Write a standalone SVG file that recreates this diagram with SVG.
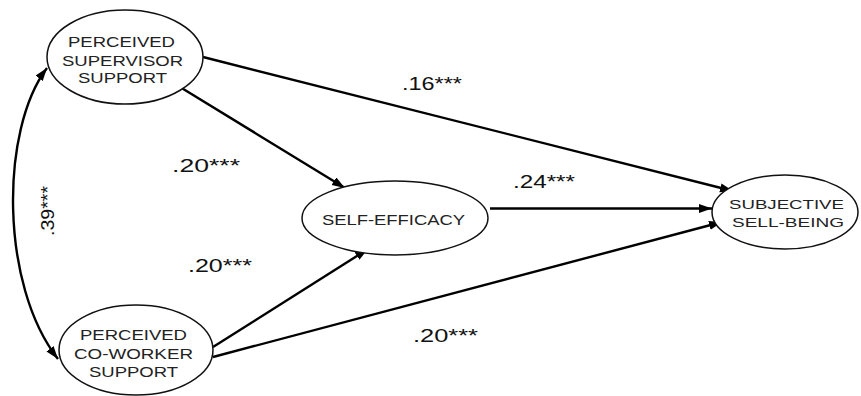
<svg xmlns="http://www.w3.org/2000/svg" width="861" height="396" viewBox="0 0 861 396">
<defs>
<marker id="ah" markerUnits="userSpaceOnUse" markerWidth="14" markerHeight="10" refX="13" refY="4.5" orient="auto-start-reverse">
<path d="M0,0 L13,4.5 L0,9 z" fill="#000"/>
</marker>
<style>
.node ellipse{fill:#fff;stroke:#111;stroke-width:1.5}
.node text{font-family:"Liberation Sans",Arial,sans-serif;fill:#222}
.edge{fill:none;stroke:#000;stroke-width:2.4;marker-end:url(#ah)}
.lbl{font-family:"Liberation Sans",Arial,sans-serif;font-size:18px;fill:#111}
</style>
</defs>
<rect width="861" height="396" fill="#fff"/>
<g id="connectors">
<path class="edge" d="M203,57 L733,191"/>
<path class="edge" d="M180,87 L345,188"/>
<path class="edge" d="M213,347 L368,249"/>
<path class="edge" d="M213,357 L722,222"/>
<path class="edge" d="M490,208.5 L712,208.5"/>
<path class="edge" style="marker-start:url(#ah)" d="M47,68 C0,130 0,285 58,359"/>
</g>
<g id="labels">
<text class="lbl" x="402" y="90" textLength="60" lengthAdjust="spacingAndGlyphs">.16***</text>
<text class="lbl" x="172" y="172" textLength="68" lengthAdjust="spacingAndGlyphs">.20***</text>
<text class="lbl" x="513" y="188" textLength="62" lengthAdjust="spacingAndGlyphs">.24***</text>
<text class="lbl" x="188" y="272" textLength="64" lengthAdjust="spacingAndGlyphs">.20***</text>
<text class="lbl" x="413" y="342" textLength="65" lengthAdjust="spacingAndGlyphs">.20***</text>
<text class="lbl" transform="translate(54,236) rotate(-90)" x="0" y="0" textLength="50" lengthAdjust="spacingAndGlyphs">.39***</text>
</g>
<g id="supervisor" class="node">
<ellipse cx="125" cy="57" rx="78" ry="47"/>
<text font-size="15.5" x="68" y="47" textLength="107" lengthAdjust="spacingAndGlyphs">PERCEIVED</text>
<text font-size="15.5" x="62" y="66" textLength="121" lengthAdjust="spacingAndGlyphs">SUPERVISOR</text>
<text font-size="15.5" x="78" y="83" textLength="89" lengthAdjust="spacingAndGlyphs">SUPPORT</text>
</g>
<g id="coworker" class="node">
<ellipse cx="136" cy="350" rx="77" ry="45"/>
<text font-size="15" x="80" y="340" textLength="107" lengthAdjust="spacingAndGlyphs">PERCEIVED</text>
<text font-size="15" x="74" y="359" textLength="119" lengthAdjust="spacingAndGlyphs">CO-WORKER</text>
<text font-size="15" x="89" y="377" textLength="89" lengthAdjust="spacingAndGlyphs">SUPPORT</text>
</g>
<g id="selfefficacy" class="node">
<ellipse cx="395" cy="218" rx="93" ry="37"/>
<text font-size="14" x="322" y="225" textLength="143" lengthAdjust="spacingAndGlyphs">SELF-EFFICACY</text>
</g>
<g id="subjective" class="node">
<ellipse cx="785" cy="212" rx="73" ry="37"/>
<text font-size="13.5" x="729" y="209" textLength="115" lengthAdjust="spacingAndGlyphs">SUBJECTIVE</text>
<text font-size="13.5" x="732" y="227" textLength="112" lengthAdjust="spacingAndGlyphs">SELL-BEING</text>
</g>
</svg>
